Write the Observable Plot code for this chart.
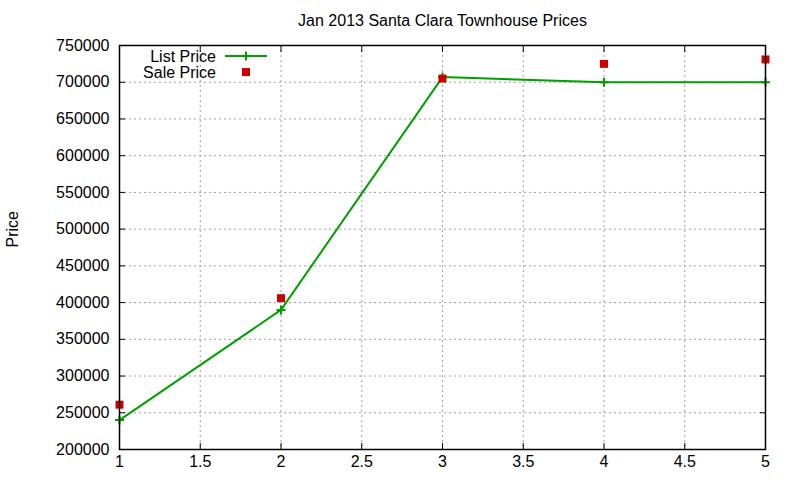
<!DOCTYPE html>
<html>
<head>
<meta charset="utf-8">
<script src="https://cdn.jsdelivr.net/npm/d3@7"></script>
<script src="https://cdn.jsdelivr.net/npm/@observablehq/plot@0.6"></script>
<style>
  body { margin: 0; background: #fff; }
  #wrap { position: relative; width: 800px; height: 480px; font-family: "Liberation Sans", Arial, sans-serif; }
  #legend { position: absolute; left: 0; top: 0; pointer-events: none; }
</style>
</head>
<body>
<div id="wrap"></div>
<script>
const title = "Jan 2013 Santa Clara Townhouse Prices";
const yLabel = "Price";
const seriesNames = ["List Price", "Sale Price"];
const bedrooms = [1, 2, 3, 4, 5];
const listPrice = [240000, 390000, 707000, 700000, 700000];
const salePrice = [261000, 406000, 705000, 725000, 731000];
const xTicks = [1, 1.5, 2, 2.5, 3, 3.5, 4, 4.5, 5];
const yTicks = [200000, 250000, 300000, 350000, 400000, 450000, 500000, 550000, 600000, 650000, 700000, 750000];

const green = "#00a000";
const red = "#cc0000";

const listData = bedrooms.map((x, i) => ({x, y: listPrice[i]}));
const saleData = bedrooms.map((x, i) => ({x, y: salePrice[i]}));

const plusSymbol = {
  draw(ctx, size) {
    const r = Math.sqrt(size / Math.PI);
    ctx.moveTo(-r, 0); ctx.lineTo(r, 0);
    ctx.moveTo(0, -r); ctx.lineTo(0, r);
  }
};

const fmt = d => String(d);

const chart = Plot.plot({
  width: 800,
  height: 480,
  marginLeft: 119,
  marginRight: 35,
  marginTop: 45,
  marginBottom: 31,
  style: { fontFamily: "'Liberation Sans', Arial, sans-serif", fontSize: "16px", color: "#000", background: "#fff" },
  x: { domain: [1, 5] },
  y: { domain: [200000, 750000] },
  marks: [
    Plot.gridX(xTicks, { stroke: "#a0a0a0", strokeOpacity: 1, strokeDasharray: "2,3" }),
    Plot.gridY(yTicks, { stroke: "#a0a0a0", strokeOpacity: 1, strokeDasharray: "2,3" }),
    // inward ticks on all four sides
    Plot.axisX(xTicks, { anchor: "bottom", tickSize: 6, dy: -6, text: null, label: null }),
    Plot.axisX(xTicks, { anchor: "top", tickSize: 6, dy: 6, text: null, label: null }),
    Plot.axisY(yTicks, { anchor: "left", tickSize: 6, dx: 6, text: null, label: null }),
    Plot.axisY(yTicks, { anchor: "right", tickSize: 6, dx: -6, text: null, label: null }),
    // tick labels
    Plot.axisX(xTicks, { anchor: "bottom", tickSize: 0, tickPadding: 6, tickFormat: fmt, label: null, fontSize: 16 }),
    Plot.axisY(yTicks, { anchor: "left", tickSize: 0, tickPadding: 10, tickFormat: fmt, label: null, fontSize: 16 }),
    Plot.line(listData, { x: "x", y: "y", stroke: green, strokeWidth: 2 }),
    Plot.dot(listData, { x: "x", y: "y", symbol: plusSymbol, r: 4.5, stroke: green, strokeWidth: 2, fill: "none" }),
    Plot.dot(saleData, { x: "x", y: "y", symbol: "square", r: 4.5, fill: red, stroke: "none" }),
    Plot.frame({ stroke: "#000", strokeWidth: 1.5 }),
    Plot.text([title], { frameAnchor: "top", dy: -25, fontSize: 16, lineAnchor: "middle", fill: "#000" }),
    Plot.text([yLabel], { frameAnchor: "left", dx: -107, rotate: -90, fontSize: 16, lineAnchor: "middle", fill: "#000" })
  ]
});

const wrap = document.getElementById("wrap");
wrap.appendChild(chart);

// legend overlay (gnuplot-style key inside plot, top-left)
const leg = d3.select(wrap).append("svg")
  .attr("id", "legend").attr("width", 800).attr("height", 100)
  .style("font-family", "'Liberation Sans', Arial, sans-serif").style("font-size", "16px");
const rows = [
  { name: seriesNames[0], y: 56, kind: "line" },
  { name: seriesNames[1], y: 72, kind: "square" }
];
rows.forEach(r => {
  leg.append("text").attr("x", 216).attr("y", r.y).attr("dy", "0.35em")
    .attr("text-anchor", "end").attr("fill", "#000").text(r.name);
  if (r.kind === "line") {
    leg.append("line").attr("x1", 225).attr("x2", 267).attr("y1", r.y).attr("y2", r.y)
      .attr("stroke", green).attr("stroke-width", 2);
    leg.append("path").attr("d", `M${241.5},${r.y}h9M${246},${r.y - 4.5}v9`)
      .attr("stroke", green).attr("stroke-width", 2).attr("fill", "none");
  } else {
    leg.append("rect").attr("x", 242).attr("y", r.y - 4).attr("width", 8).attr("height", 8).attr("fill", red);
  }
});
</script>
</body>
</html>
